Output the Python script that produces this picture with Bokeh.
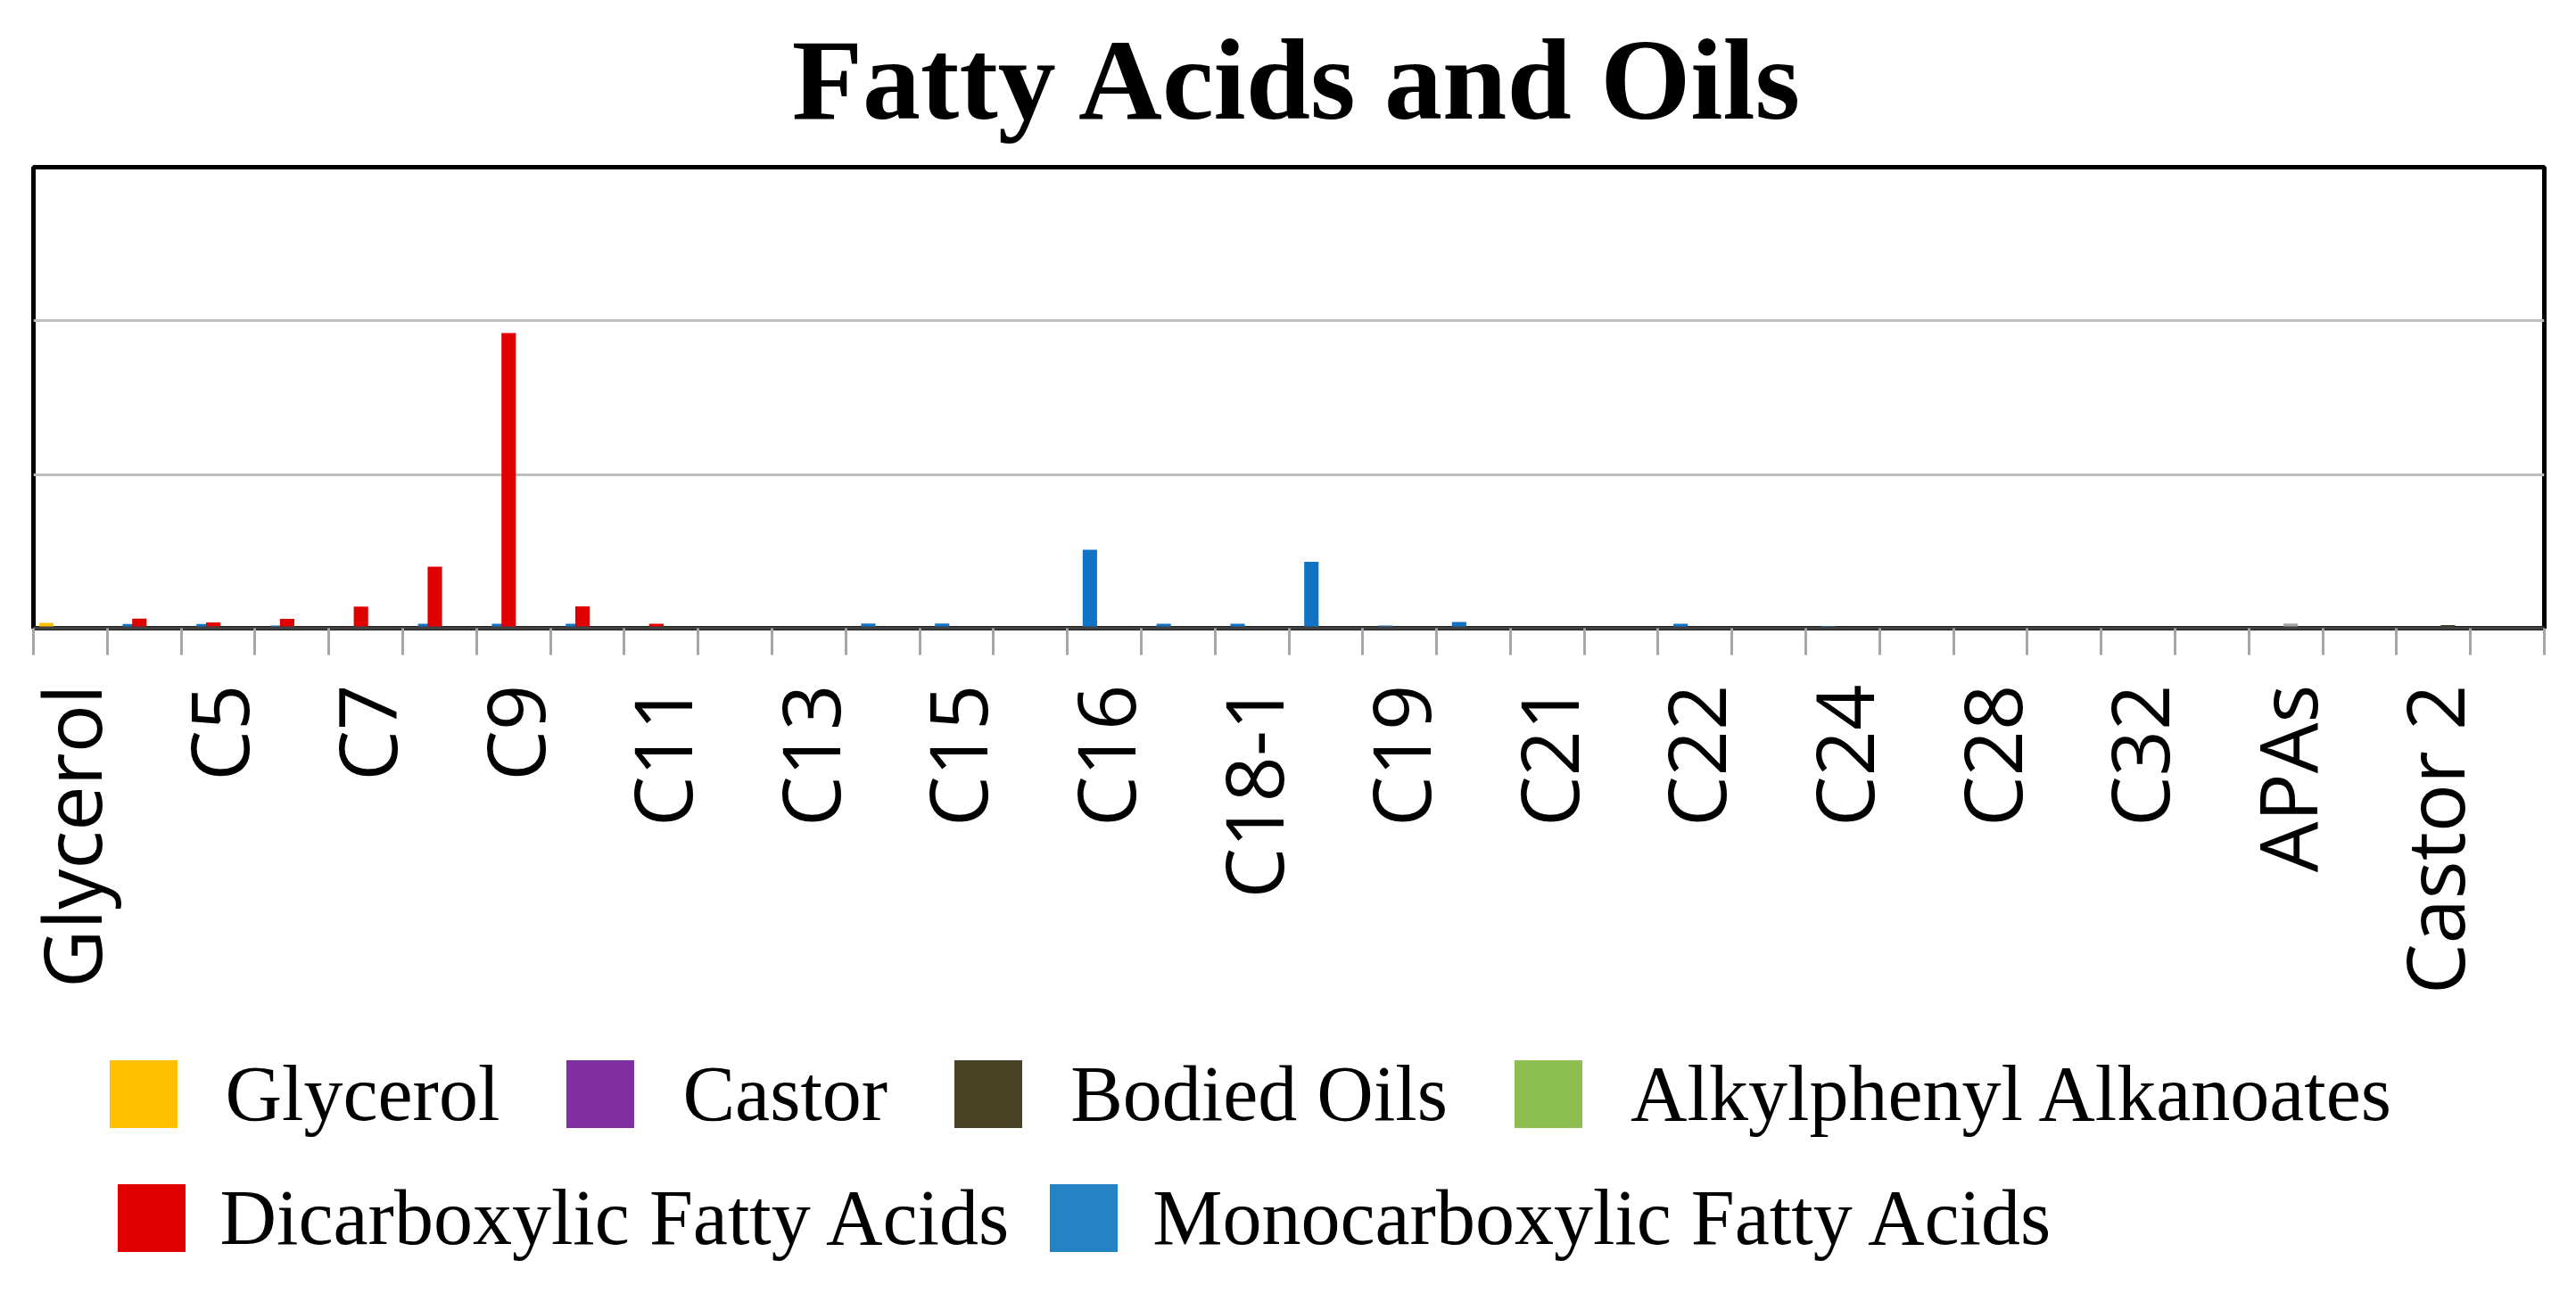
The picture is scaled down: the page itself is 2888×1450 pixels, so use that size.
import math
from bokeh.plotting import figure
from bokeh.layouts import column
from bokeh.models import (Range1d, LinearAxis, FixedTicker, Grid, Legend, LegendItem,
                          Label, ColumnDataSource)
from bokeh.transform import dodge
from bokeh.embed import file_html
from bokeh.resources import INLINE

# ---------------- data ----------------
categories = ["Glycerol", "C4", "C5", "C6", "C7", "C8", "C9", "C10", "C11", "C12",
              "C13", "C14", "C15", "C16-1", "C16", "C17", "C18-1", "C18", "C19", "C20",
              "C21", "C22-1", "C22", "C23", "C24", "C26", "C28", "C30", "C32", "C34",
              "APAs", "Castor 1", "Castor 2", "Castor 3"]

glycerol       = [0.35, 0, 0, 0, 0, 0, 0, 0, 0, 0, 0, 0, 0, 0, 0, 0, 0,
                  0, 0, 0, 0, 0, 0, 0, 0, 0, 0, 0, 0, 0, 0, 0, 0, 0]
monocarboxylic = [0, 0.27, 0.27, 0.17, 0, 0.29, 0.29, 0.29, 0, 0, 0, 0.3, 0.3, 0, 5.1, 0.29, 0.29,
                  4.33, 0.17, 0.41, 0, 0, 0.29, 0, 0.15, 0, 0, 0, 0, 0, 0, 0, 0, 0]
dicarboxylic   = [0, 0.63, 0.38, 0.61, 1.4, 4.0, 19.2, 1.42, 0.29, 0, 0, 0, 0, 0, 0, 0, 0,
                  0, 0, 0, 0, 0, 0, 0, 0, 0, 0, 0, 0, 0, 0, 0, 0, 0]
alkylphenyl    = [0, 0, 0, 0, 0, 0, 0, 0, 0, 0, 0, 0, 0, 0, 0, 0, 0,
                  0, 0, 0, 0, 0, 0, 0, 0, 0, 0, 0, 0, 0, 0.3, 0, 0, 0]
bodied_oils    = [0, 0, 0, 0, 0, 0, 0, 0, 0, 0, 0, 0, 0, 0, 0, 0, 0,
                  0, 0, 0, 0, 0, 0, 0, 0, 0, 0, 0, 0, 0, 0, 0, 0.2, 0]
castor         = [0, 0, 0, 0, 0, 0, 0, 0, 0, 0, 0, 0, 0, 0, 0, 0, 0,
                  0, 0, 0, 0, 0, 0, 0, 0, 0, 0, 0, 0, 0, 0, 0, 0, 0]

legend_row1 = ["Glycerol", "Castor", "Bodied Oils", "Alkylphenyl Alkanoates"]
legend_row2 = ["Dicarboxylic Fatty Acids", "Monocarboxylic Fatty Acids"]
title_text = "Fatty Acids and Oils"

# every other category name is shown on the axis
shown_labels = {i: categories[i] for i in range(0, len(categories), 2)}

source = ColumnDataSource(dict(
    pos=list(range(len(categories))),
    cat=categories,
    glycerol=glycerol,
    mono=monocarboxylic,
    di=dicarboxylic,
    alkyl=alkylphenyl,
    bodied=bodied_oils,
    castor=castor,
))

W = 2872
TITLE_H = 170
MAIN_BOTTOM = 1160           # page y where the chart figure ends
MAIN_H = MAIN_BOTTOM - TITLE_H
LEG_H = 1434 - MAIN_BOTTOM


def bare_figure(height):
    f = figure(width=W, height=height, x_range=Range1d(0, 1), y_range=Range1d(0, 1),
               x_axis_location=None, y_axis_location=None, toolbar_location=None,
               output_backend="svg", min_border=0, outline_line_color=None,
               background_fill_color="white", border_fill_color="white")
    f.center = [c for c in f.center if not isinstance(c, Grid)]
    return f


# ---------------- title ----------------
ft = bare_figure(TITLE_H)
ft.add_layout(Label(x=1419, y=82, x_units="screen", y_units="screen",
                    text=title_text, text_font="Liberation Serif",
                    text_font_style="bold", text_font_size="130px",
                    text_align="center", text_baseline="alphabetic",
                    text_color="black"))

# ---------------- main chart ----------------
n = len(categories)
p = figure(width=W, height=MAIN_H,
           x_range=Range1d(-0.5, n - 0.5), y_range=Range1d(0, 30),
           x_axis_location=None, y_axis_location=None,
           toolbar_location=None, output_backend="svg",
           min_border_left=37, min_border_right=W - 2852,
           min_border_top=187 - TITLE_H, min_border_bottom=MAIN_BOTTOM - 704,
           outline_line_color="black", outline_line_width=5,
           background_fill_color="white", border_fill_color="white")
p.center = [c for c in p.center if not isinstance(c, Grid)]

# horizontal gridlines
p.add_layout(Grid(dimension=1, ticker=FixedTicker(ticks=[10, 20]),
                  grid_line_color="#BFBFBF", grid_line_width=3))

# bars (six series side by side, overlapping like the original)
series = [("glycerol", "#FFC000"),
          ("mono", "#1273C4"),
          ("di", "#E00000"),
          ("alkyl", "#A5A5A5"),
          ("bodied", "#3F3A26"),
          ("castor", "#7030A0")]
step = 0.13
for k, (col, color) in enumerate(series):
    p.vbar(x=dodge("pos", (k - 2.5) * step, range=p.x_range), top=col, bottom=0,
           width=0.195, source=source, fill_color=color, line_color=None)

# x axis: tick marks at category boundaries, labels at category centres
xaxis = LinearAxis(
    ticker=FixedTicker(ticks=list(range(0, n, 2)),
                       minor_ticks=[i - 0.5 for i in range(n + 1)]),
    major_label_overrides=shown_labels,
    major_tick_out=0, major_tick_in=0, major_tick_line_color=None,
    minor_tick_out=30, minor_tick_in=0,
    minor_tick_line_color="#A6A6A6", minor_tick_line_width=3,
    axis_line_color="#404040", axis_line_width=4,
    major_label_orientation=math.pi / 2,
    major_label_standoff=33,
    major_label_text_font="Open Sans",
    major_label_text_font_size="90px",
    major_label_text_color="black",
)
p.add_layout(xaxis, "below")

# ---------------- legend ----------------
fl = bare_figure(LEG_H)
leg_colors = {"Glycerol": "#FFC000", "Castor": "#7F2FA2", "Bodied Oils": "#4A4225",
              "Alkylphenyl Alkanoates": "#8CBE50", "Dicarboxylic Fatty Acids": "#E00000",
              "Monocarboxylic Fatty Acids": "#2383C4"}
proxy = ColumnDataSource(dict(x=[0.5], top=[0.0]))   # zero-height proxy for legend swatches
leg_r = {}
for name, color in leg_colors.items():
    leg_r[name] = fl.vbar(x="x", top="top", bottom=0, width=0.01, source=proxy,
                          fill_color=color, line_color=None)

common = dict(orientation="horizontal", glyph_width=95, glyph_height=95,
              padding=0, margin=0, border_line_color=None,
              background_fill_alpha=0, label_text_font="Liberation Serif",
              label_text_font_size="88px", label_text_color="black")

leg_bottom_page = MAIN_BOTTOM + LEG_H
leg1 = Legend(items=[LegendItem(label=t, renderers=[leg_r[t]]) for t in legend_row1],
              location=(75.5, leg_bottom_page - (1229 + 47.5)),
              label_standoff=45, spacing=65, **common)
leg2 = Legend(items=[LegendItem(label=t, renderers=[leg_r[t]]) for t in legend_row2],
              location=(84.5, leg_bottom_page - (1368 + 47.5)),
              label_standoff=30, spacing=36, **common)
fl.add_layout(leg1)
fl.add_layout(leg2)

layout = column(ft, p, fl, spacing=0)
open("out.html", "w").write(file_html(layout, INLINE))
